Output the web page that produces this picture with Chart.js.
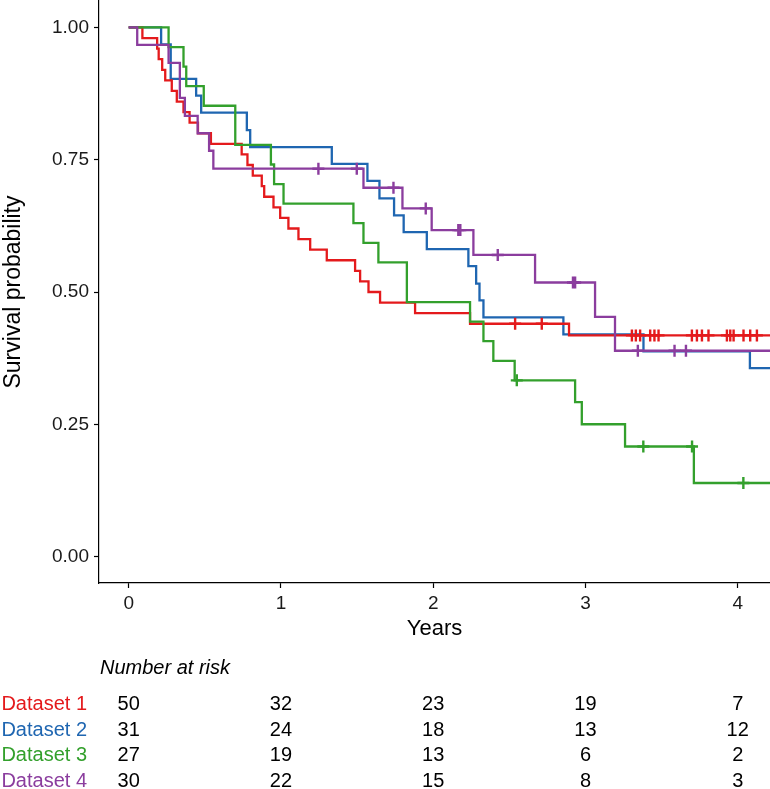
<!DOCTYPE html>
<html>
<head>
<meta charset="utf-8">
<script src="https://cdn.jsdelivr.net/npm/chart.js@4.4.1/dist/chart.umd.min.js"></script>
<style>
html,body{margin:0;padding:0;background:#fff;}
#wrap{width:770px;height:789px;}
</style>
</head>
<body>
<div id="wrap"><canvas id="km" width="770" height="789"></canvas></div>
<script>
const seriesNames = ['Dataset 1','Dataset 2','Dataset 3','Dataset 4'];
const seriesColors = ['#E41A1C','#1F66B1','#33A02C','#8B3D9E'];
const xTicks = [0,1,2,3,4];
const yTicks = [0,0.25,0.5,0.75,1];
const xMin = -0.195, xMax = 4.212;

// survival steps (time of drop, survival after drop)
const time1 = [0,0.09,0.187,0.197,0.22,0.24,0.283,0.316,0.36,0.40,0.455,0.54,0.742,0.78,0.815,0.874,0.89,0.951,0.995,1.049,1.115,1.192,1.301,1.487,1.52,1.575,1.651,1.881,2.242,2.892];
const surv1 = [1,0.98,0.96,0.94,0.92,0.90,0.88,0.86,0.84,0.82,0.80,0.78,0.76,0.74,0.72,0.70,0.68,0.66,0.64,0.62,0.60,0.58,0.56,0.54,0.52,0.50,0.48,0.46,0.44,0.418];
const cens1 = [2.538,2.713,3.305,3.331,3.359,3.425,3.453,3.480,3.699,3.732,3.765,3.808,3.929,3.951,3.973,4.038,4.082,4.126];

const time2 = [0,0.213,0.276,0.443,0.476,0.776,0.798,1.334,1.568,1.647,1.743,1.806,1.958,2.231,2.282,2.304,2.33,2.855,3.381,4.08];
const surv2 = [1,0.968,0.903,0.871,0.839,0.806,0.774,0.742,0.710,0.677,0.645,0.613,0.581,0.549,0.516,0.484,0.452,0.420,0.388,0.356];
const cens2 = [];

const time3 = [0,0.262,0.36,0.378,0.493,0.70,0.934,0.955,1.017,1.476,1.542,1.64,1.827,2.242,2.33,2.395,2.535,2.932,2.976,3.26,3.712];
const surv3 = [1,0.963,0.926,0.889,0.852,0.778,0.741,0.704,0.667,0.630,0.593,0.556,0.481,0.444,0.407,0.370,0.333,0.292,0.250,0.208,0.139];
const cens3 = [2.549,3.38,3.70,4.037];

const time4 = [0,0.056,0.262,0.336,0.369,0.453,0.528,0.556,1.542,1.798,1.99,2.264,2.669,3.063,3.194];
const surv4 = [1,0.967,0.933,0.867,0.833,0.800,0.767,0.733,0.697,0.658,0.617,0.570,0.518,0.453,0.389];
const cens4 = [1.246,1.498,1.739,1.951,2.165,2.178,2.424,2.918,2.932,3.344,3.585,3.66];

// number at risk
const riskTimes = [0,1,2,3,4];
const risk1 = [50,32,23,19,7];
const risk2 = [31,24,18,13,12];
const risk3 = [27,19,13,6,2];
const risk4 = [30,22,15,8,3];

const fontFam = "'Liberation Sans', Arial, sans-serif";
Chart.defaults.font.family = fontFam;

function stepPoints(times, surv){
  let pts = times.map((t,i) => ({x:t, y:surv[i]}));
  pts.push({x:xMax + 0.1, y:surv[surv.length-1]});
  return pts;
}
function survAt(times, surv, t){
  let s = surv[0];
  for(let i = 0;i < times.length;i++){
    if(times[i] <= t) s = surv[i];
  }
  return s;
}
function noPad(s){
  s.paddingTop = 0; s.paddingBottom = 0; s.paddingLeft = 0; s.paddingRight = 0;
}

const allTimes = [time1,time2,time3,time4];
const allSurv = [surv1,surv2,surv3,surv4];
const allCens = [cens1,cens2,cens3,cens4];
const lineOrder = [2,3,1,0];

let datasets = [];
for(let i = 0;i < 4;i++){
  datasets.push({
    label: seriesNames[i],
    data: stepPoints(allTimes[i], allSurv[i]),
    stepped: true,
    borderColor: seriesColors[i],
    borderWidth: 2.3,
    pointRadius: 0,
    fill: false,
    order: lineOrder[i]
  });
}
for(let i = 0;i < 4;i++){
  datasets.push({
    label: seriesNames[i] + ' censored',
    data: allCens[i].map(t => ({x:t, y:survAt(allTimes[i], allSurv[i], t)})),
    showLine: false,
    pointStyle: 'cross',
    pointRadius: 6,
    pointBorderWidth: 2.4,
    borderColor: seriesColors[i],
    backgroundColor: seriesColors[i],
    order: -1
  });
}

const riskTable = {
  id: 'riskTable',
  afterDraw(chart){
    const ctx = chart.ctx;
    const xs = chart.scales.x;
    ctx.save();
    ctx.textBaseline = 'middle';
    ctx.font = "italic 20px " + fontFam;
    ctx.fillStyle = '#000';
    ctx.textAlign = 'left';
    ctx.fillText('Number at risk', chart.chartArea.left + 1, 668);
    const rows = [risk1,risk2,risk3,risk4];
    rows.forEach((row,i) => {
      const y = 704.5 + i*25.7;
      ctx.font = "20px " + fontFam;
      ctx.textAlign = 'right';
      ctx.fillStyle = seriesColors[i];
      ctx.fillText(seriesNames[i], 87, y);
      ctx.textAlign = 'center';
      ctx.fillStyle = '#000';
      row.forEach((n,j) => ctx.fillText(String(n), xs.getPixelForValue(riskTimes[j]), y));
    });
    ctx.restore();
  }
};

const config = {
  type: 'line',
  data: {datasets: datasets},
  options: {
    responsive: false,
    animation: false,
    layout: {autoPadding:false, padding: {top:1, right:0, bottom:146, left:0}},
    plugins: {legend: {display:false}, tooltip: {enabled:false}},
    scales: {
      x: {
        type: 'linear',
        min: xMin,
        max: xMax,
        afterBuildTicks: s => { s.ticks = xTicks.map(v => ({value:v})); },
        afterFit: s => { s.height = 60; noPad(s); },
        grid: {drawOnChartArea:false, drawTicks:true, tickLength:5, tickColor:'#000', tickWidth:1.2},
        border: {display:true, color:'#000', width:1.2},
        ticks: {autoSkip:false, maxRotation:0, padding:4, color:'#1a1a1a', font:{size:19}},
        title: {display:true, text:'Years', color:'#000', font:{size:22}, padding:{top:0, bottom:1}}
      },
      y: {
        min: -0.05,
        max: 1.05,
        afterBuildTicks: s => { s.ticks = yTicks.map(v => ({value:v})); },
        afterFit: s => { s.width = 99; noPad(s); },
        grid: {drawOnChartArea:false, drawTicks:true, tickLength:5, tickColor:'#000', tickWidth:1.2},
        border: {display:true, color:'#000', width:1.2},
        ticks: {autoSkip:false, padding:5, color:'#1a1a1a', font:{size:19}, callback: v => v.toFixed(2)},
        title: {display:true, text:'Survival probability', color:'#000', font:{size:23}, padding:{top:0, bottom:0}}
      }
    }
  },
  plugins: [riskTable]
};

let ctx = document.getElementById('km').getContext('2d');
new Chart(ctx, config);
</script>
</body>
</html>
